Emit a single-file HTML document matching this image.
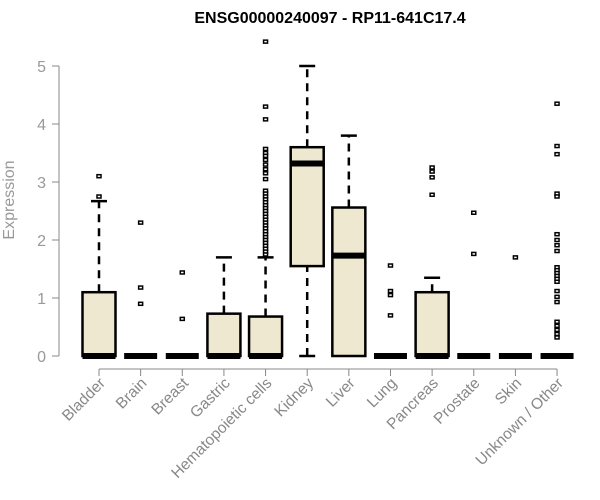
<!DOCTYPE html>
<html><head><meta charset="utf-8"><style>body{margin:0;background:#fff}svg{display:block;font-family:"Liberation Sans",sans-serif}</style></head>
<body>
<svg id="chart" width="600" height="500">
<text x="330" y="23" text-anchor="middle" font-weight="bold" font-size="16">ENSG00000240097 - RP11-641C17.4</text>
<text transform="translate(14,200) rotate(-90)" text-anchor="middle" font-size="16" fill="#999">Expression</text>
<g id="yaxis"></g>
<g id="xaxis"></g>
<g id="boxes"></g>
</svg>
<script>
const categories=["Bladder","Brain","Breast","Gastric","Hematopoietic cells","Kidney","Liver","Lung","Pancreas","Prostate","Skin","Unknown / Other"];
const q1=[0,0,0,0,0,1.55,0,0,0,0,0,0];
const medians=[0,0,0,0,0,3.32,1.73,0,0,0,0,0];
const q3=[1.1,0,0,0.73,0.68,3.6,2.56,0,1.1,0,0,0];
const whiskLo=[0,0,0,0,0,0,0,0,0,0,0,0];
const whiskHi=[2.67,0,0,1.7,1.7,5.0,3.8,0,1.35,0,0,0];
const outliers=[[3.1,2.75],[2.3,1.18,0.9],[1.44,0.64],[],
[5.42,4.3,4.08,3.57,3.5,3.45,3.38,3.3,3.22,3.15,3.05,2.85,2.8,2.75,2.7,2.65,2.6,2.55,2.5,2.45,2.4,2.35,2.3,2.25,2.2,2.15,2.1,2.05,2.0,1.95,1.9,1.85,1.8,1.75],
[],[],[1.56,1.12,1.05,0.7],[3.25,3.18,3.08,2.78],[2.47,1.76],[1.7],
[4.35,3.62,3.48,2.8,2.75,2.1,2.0,1.91,1.81,1.53,1.48,1.43,1.38,1.33,1.28,1.12,1.02,0.93,0.59,0.52,0.45,0.38,0.32]];
const yTicks=[0,1,2,3,4,5];
const NS="http://www.w3.org/2000/svg";
const y=v=>356-v*58, x=i=>99+i*41.64;
function mk(tag,at,parent){const e=document.createElementNS(NS,tag);for(const k in at)e.setAttribute(k,at[k]);parent.appendChild(e);return e;}
const ya=document.getElementById('yaxis'),xa=document.getElementById('xaxis'),bx=document.getElementById('boxes');
mk('line',{x1:59,x2:59,y1:y(0),y2:y(5),stroke:'#888'},ya);
yTicks.forEach(t=>{mk('line',{x1:52,x2:59,y1:y(t),y2:y(t),stroke:'#888'},ya);
const tx=mk('text',{x:46,y:y(t)+6,'text-anchor':'end','font-size':16,fill:'#999'},ya);tx.textContent=t;

});
mk('line',{x1:x(0),x2:x(11),y1:369,y2:369,stroke:'#888'},xa);
categories.forEach((c,i)=>{mk('line',{x1:x(i),x2:x(i),y1:369,y2:376,stroke:'#888'},xa);
const t=mk('text',{transform:`translate(${x(i)+7},384) rotate(-45)`,'text-anchor':'end','font-size':15.5,fill:'#888'},xa);t.textContent=c;

});
categories.forEach((c,i)=>{const g=mk('g',{},bx);


const cx=x(i),hw=16.5;
if(whiskHi[i]>q3[i]){mk('line',{x1:cx,x2:cx,y1:y(q3[i]),y2:y(whiskHi[i]),stroke:'#000','stroke-width':2.5,'stroke-dasharray':'8,6'},g);
mk('line',{x1:cx-8,x2:cx+8,y1:y(whiskHi[i]),y2:y(whiskHi[i]),stroke:'#000','stroke-width':2.5},g);}
if(q1[i]>whiskLo[i]){mk('line',{x1:cx,x2:cx,y1:y(whiskLo[i]),y2:y(q1[i]),stroke:'#000','stroke-width':2.5,'stroke-dasharray':'8,6'},g);
mk('line',{x1:cx-8,x2:cx+8,y1:y(whiskLo[i]),y2:y(whiskLo[i]),stroke:'#000','stroke-width':2.5},g);}
mk('rect',{x:cx-hw,y:y(q3[i]),width:hw*2,height:Math.max(0,y(q1[i])-y(q3[i])),fill:'#ede8cf',stroke:'#000','stroke-width':2.5},g);
mk('line',{x1:cx-hw,x2:cx+hw,y1:y(medians[i]),y2:y(medians[i]),stroke:'#000','stroke-width':6},g);
outliers[i].forEach(v=>{mk('rect',{x:cx-2,y:y(v)-1.5,width:4,height:3,fill:'#fff',stroke:'#000','stroke-width':1.5},g);});
});
</script>
</body></html>
